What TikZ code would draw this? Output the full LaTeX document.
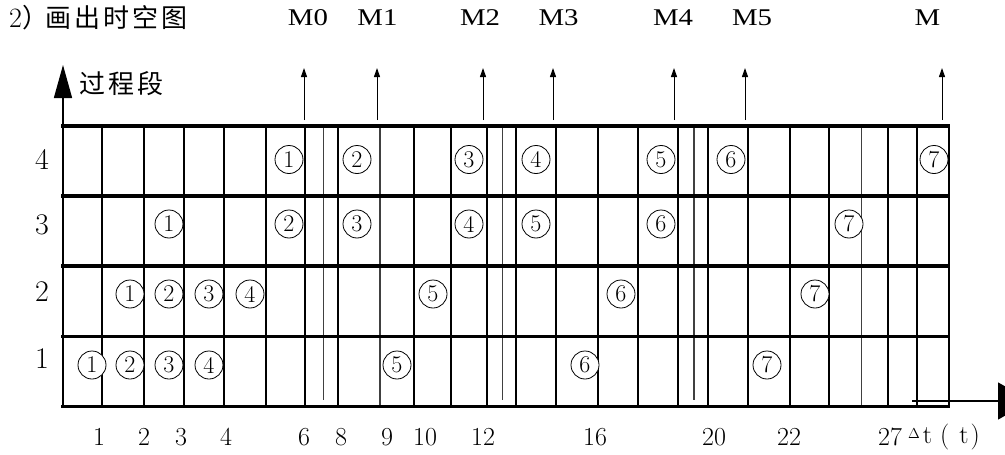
\documentclass[tikz,border=0pt]{standalone}
\usepackage{fontspec}
\newfontfamily\cjk{Noto Sans CJK SC}
\newfontfamily\tms{Liberation Serif}
\usetikzlibrary{arrows.meta}
\newcommand\cjb[1]{\makebox[29pt]{#1}}
\tikzset{
  gridv/.style={line width=2pt},
  gridthin/.style={line width=1.3pt, black!75},
  gridh/.style={line width=3.3pt},
  marr/.style={line width=1pt, -{Triangle[length=9pt,width=6pt]}},
  bigarr/.style={line width=1.5pt, -{Triangle[length=33pt,width=18pt]}},
  tarr/.style={line width=1.3pt, -{Triangle[length=33pt,width=37pt]}},
  circ/.style={circle, draw, line width=0.8pt, minimum size=28pt, inner sep=0pt, font=\fontsize{24}{24}\selectfont},
  mlab/.style={inner sep=0pt, font=\tms\fontsize{24}{24}\selectfont},
  rowlab/.style={inner sep=0pt, font=\fontsize{30}{30}\selectfont},
  tlab/.style={inner sep=0pt, font=\fontsize{26}{26}\selectfont},
}
\begin{document}
\begin{tikzpicture}[x=1pt,y=-1pt]
\useasboundingbox (0,0) rectangle (1005,455);
% title
\node[anchor=west, inner sep=0pt] (title) at (9,18) {\fontsize{28}{28}\selectfont 2\cjk\fontsize{26}{26}\selectfont\makebox[22pt][l]{）}\cjb{画}\cjb{出}\cjb{时}\cjb{空}\cjb{图}};
% vertical axis
\coordinate (ybot) at (63,126);
\coordinate (ytop) at (63,65);
\draw[bigarr] (ybot) -- (ytop);
\node[anchor=west, inner sep=0pt] (ylab) at (78,84) {\cjk\fontsize{26}{26}\selectfont\cjb{过}\cjb{程}\cjb{段}};
% grid verticals
\foreach \x in {63,101.7,144,184,223.7,266,305.3,337.7,414,450.5,486.5,516,556,598,638,678,708,748,790,829,888,917,949}
  \draw[gridv] (\x,126) -- (\x,406.5);
\foreach \x in {380,861.5}
  \draw[gridthin] (\x,126) -- (\x,406.5);
\foreach \x in {323.7,502.7,694}
  \draw[gridthin] (\x,126) -- (\x,400);
% grid horizontals
\foreach \y in {126,196,266,336.5,406.5}
  \draw[gridh] (61,\y) -- (950,\y);
% time axis
\coordinate (tstart) at (912,401);
\coordinate (tend) at (1031,401);
\draw[tarr] (tstart) -- (tend);
% M labels and arrows
\foreach \n/\lx/\ax/\t in {m0/308/304/M0, m1/377.5/377/M1, m2/480/483/M2, m3/558.5/553/M3, m4/673/674/M4, m5/752/745/M5, m/927.5/942/M}{
  \node[mlab] (\n lab) at (\lx,18) {\scalebox{1.2}[1]{\t}};
  \coordinate (\n b) at (\ax,120);
  \coordinate (\n t) at (\ax,68);
  \draw[marr] (\n b) -- (\n t);
}
% row labels
\node[rowlab] (row4) at (42,159) {4};
\node[rowlab] (row3) at (42,225) {3};
\node[rowlab] (row2) at (42,292) {2};
\node[rowlab] (row1) at (42,359) {1};
% bottom labels
\foreach \n/\x/\t in {b1/99/1, b2/144/2, b3/181/3, b4/226/4, b6/304/6, b8/341/8, b9/387/9, b10/425/10, b12/483/12, b16/595/16, b20/714/20, b22/789/22, b27/890/27}
  \node[tlab] (\n) at (\x,437) {\t};
\node[tlab, anchor=west] (dt) at (908,437) {\raisebox{5pt}{\fontsize{15}{15}\selectfont$\Delta$}\hspace{3pt}t\hspace{8pt}(\hspace{10pt}t\hspace{2pt})};
% circled numbers
\foreach \n/\x/\y/\t in {
  r4c1/289/159.5/1, r4c2/357/159.5/2, r4c3/469/159.5/3, r4c4/536/159.5/4, r4c5/661/159.5/5, r4c6/731/159.5/6, r4c7/934/159.5/7,
  r3c1/169/224/1, r3c2/289/224/2, r3c3/357/224/3, r3c4/469/224/4, r3c5/536/224/5, r3c6/661/224/6, r3c7/849/224/7,
  r2c1/130/294/1, r2c2/169/294/2, r2c3/209/294/3, r2c4/250/294/4, r2c5/433/294/5, r2c6/621/294/6, r2c7/815/294/7,
  r1c1/92/365/1, r1c2/130/365/2, r1c3/169/365/3, r1c4/209/365/4, r1c5/397/365/5, r1c6/585/365/6, r1c7/767/365/7}
  \node[circ, fill=white] (\n) at (\x,\y) {\t};
\end{tikzpicture}
\end{document}
